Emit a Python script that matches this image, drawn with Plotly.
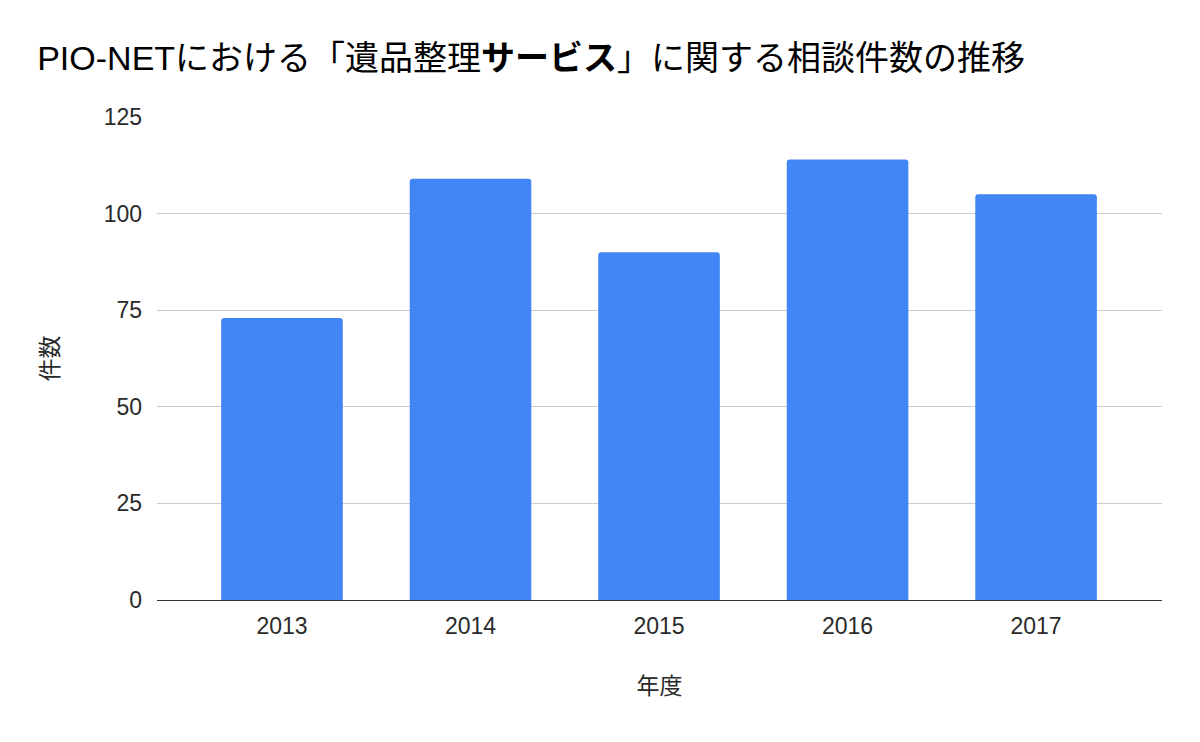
import plotly.graph_objects as go

years = ["2013", "2014", "2015", "2016", "2017"]
counts = [73, 109, 90, 114, 105]
y_ticks = [0, 25, 50, 75, 100, 125]

title_text = "PIO-NETにおける「遺品整理<b>サービス</b>」に関する相談件数の推移"
x_title = "年度"
y_title = "件数"

FONT = "Liberation Sans, Arial, Noto Sans CJK JP, sans-serif"
TEXT = "#2a2a2a"

fig = go.Figure(
    go.Bar(
        x=years,
        y=counts,
        marker=dict(color="#4285F4", cornerradius=3, line=dict(width=0)),
        hoverinfo="x+y",
    )
)

fig.update_layout(
    width=1200,
    height=742,
    paper_bgcolor="white",
    plot_bgcolor="white",
    bargap=0.355,
    showlegend=False,
    margin=dict(l=157, r=38, t=117, b=142),
    font=dict(family=FONT, color=TEXT),
    title=dict(
        text=title_text,
        x=0.031,
        xanchor="left",
        y=0.922,
        yanchor="middle",
        font=dict(family=FONT, size=34, color="#000000"),
    ),
)

fig.update_xaxes(
    type="category",
    range=[-0.663, 4.668],
    showgrid=False,
    showline=True,
    linecolor="#333333",
    linewidth=1,
    ticks="",
    ticklabelstandoff=5,
    tickfont=dict(size=23, color=TEXT),
    title=dict(text=x_title, font=dict(size=23, color=TEXT), standoff=40),
)

fig.update_yaxes(
    range=[0, 125],
    tickvals=y_ticks,
    showgrid=True,
    gridcolor="#cccccc",
    gridwidth=1,
    zeroline=True,
    zerolinecolor="#333333",
    zerolinewidth=1,
    showline=False,
    ticks="",
    ticklabelstandoff=14,
    tickfont=dict(size=23, color=TEXT),
    title=dict(text=y_title, font=dict(size=23, color=TEXT), standoff=38),
)

fig.write_html(
    "out.html",
    config={"displayModeBar": False},
    post_script="document.body.style.margin='0px';",
)
